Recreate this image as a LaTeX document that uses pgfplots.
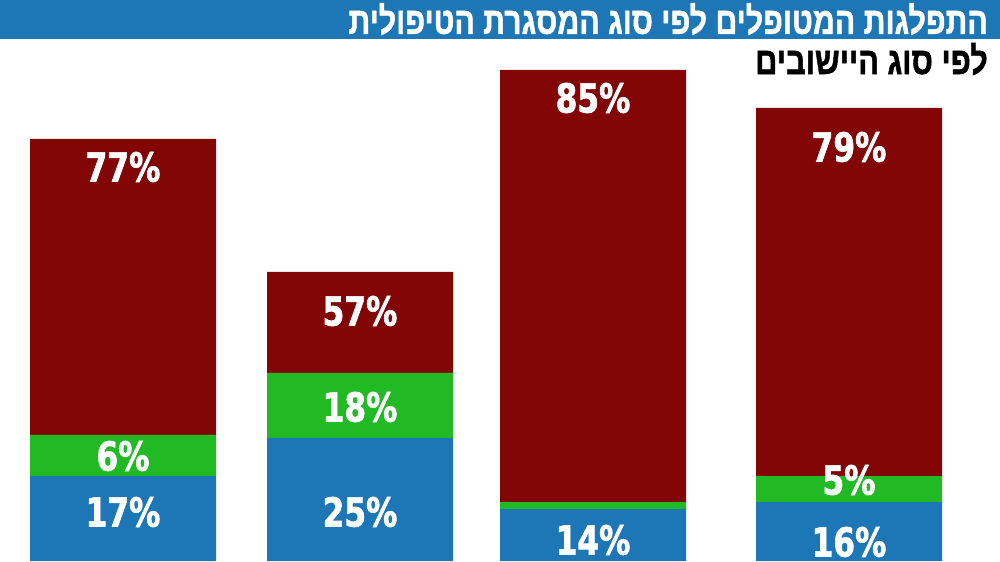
\documentclass[border=0pt]{standalone}
\usepackage{pgfplots}
\pgfplotsset{compat=1.18}
\usepackage{fontspec}
\setmainfont{Liberation Sans}
\TeXXeTstate=1
\newfontfamily\hebfont[Script=Hebrew,FakeStretch=0.80,FakeBold=1.2]{Liberation Sans}
\newfontfamily\numfont[FakeStretch=0.78,FakeBold=1.6]{DejaVu Sans}

\definecolor{barblue}{HTML}{1D77B7}
\definecolor{bargreen}{HTML}{21BA25}
\definecolor{barred}{HTML}{820606}

\begin{document}
\begin{tikzpicture}
\begin{axis}[
  at={(0,0)}, anchor=south west,
  scale only axis,
  width=750pt, height=420.75pt,
  xmin=0, xmax=1000, ymin=0, ymax=561,
  hide axis,
  ybar stacked,
  bar width=139.5pt,
  enlargelimits=false,
]
  \addplot[fill=barblue, draw=none] coordinates {(123,85) (360,123) (593,52) (849,59)};
  \addplot[fill=bargreen, draw=none] coordinates {(123,41) (360,65) (593,7) (849,26)};
  \addplot[fill=barred, draw=none] coordinates {(123,296) (360,101) (593,432) (849,368)};
\end{axis}

% pixel -> pt helper: x = 0.75 px, y = 0.75 (561 - py)
\begin{scope}[x=0.75pt, y=0.75pt, every node/.style={text=white, inner sep=0pt, font=\numfont\bfseries\fontsize{30}{30}\selectfont}]
  \node at (123,394) {77\%};
  \node at (123,105) {6\%};
  \node at (123,49) {17\%};
  \node at (360,250) {57\%};
  \node at (360,154) {18\%};
  \node at (360,49) {25\%};
  \node at (593,463) {85\%};
  \node at (593,21) {14\%};
  \node at (849,414) {79\%};
  \node at (849,81) {5\%};
  \node at (849,19) {16\%};
\end{scope}

\begin{scope}[x=0.75pt, y=0.75pt]
  \fill[barblue] (0,561) rectangle (1000,522);
  \node[anchor=east, text=white, inner sep=0pt, font=\hebfont\bfseries\fontsize{28.4}{28.4}\selectfont]
    at (988,542) {\beginR התפלגות המטופלים לפי סוג המסגרת הטיפולית\endR};
  \node[anchor=east, text=black, inner sep=0pt, font=\hebfont\bfseries\fontsize{28.8}{28.8}\selectfont]
    at (988,502) {\beginR לפי סוג היישובים\endR};
\end{scope}

\pgfresetboundingbox
\path[use as bounding box] (0,0) rectangle (750pt,420.75pt);
\end{tikzpicture}
\end{document}
